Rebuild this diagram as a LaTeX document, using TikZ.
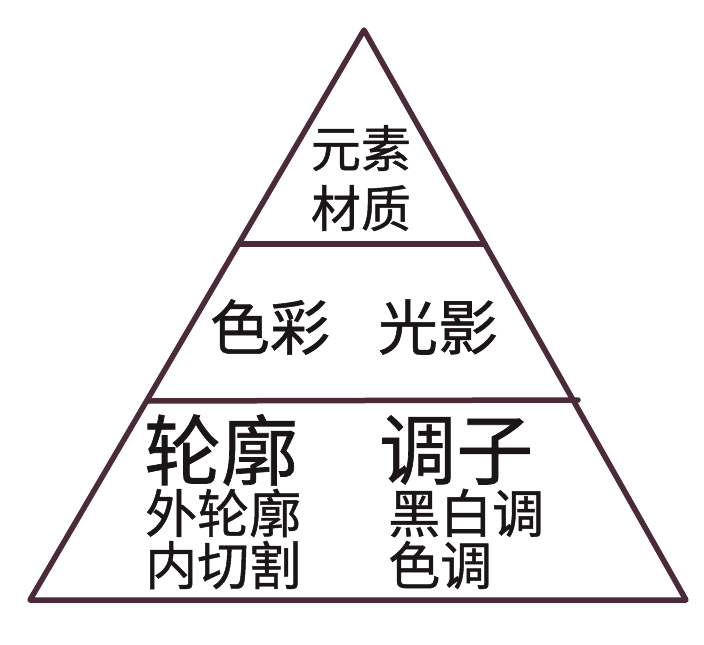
\documentclass[tikz,border=0pt]{standalone}
\usepackage{fontspec}
\newfontfamily\cjk[FakeBold=0.9,AutoFakeBold=0.9]{Noto Sans CJK SC}
\definecolor{edge}{HTML}{4B2A39}
\definecolor{ink}{HTML}{1A1618}
\begin{document}
\begin{tikzpicture}[x=1pt,y=-1pt,
  frame/.style={draw=edge,line width=5.5pt,line join=round,line cap=round},
  txt/.style={inner sep=0pt,text=ink,font=\cjk},
  top/.style={txt,font=\cjk\fontsize{50}{50}\selectfont},
  mid/.style={txt,font=\cjk\fontsize{60}{60}\selectfont},
  big/.style={txt,anchor=west,font=\cjk\fontsize{77}{77}\selectfont},
  small/.style={txt,anchor=west,font=\cjk\fontsize{52}{52}\selectfont}]
\useasboundingbox[fill=white] (0,0) rectangle (704,645);
\coordinate (apex) at (364,30);
\coordinate (bl) at (30,600);
\coordinate (br) at (686,600);
\coordinate (d1l) at (239,244);
\coordinate (d1r) at (485,244);
\coordinate (d2l) at (147,401);
\coordinate (d2r) at (578,400);
\draw[frame] (apex) -- (bl) -- (br) -- cycle;
\draw[frame] (d1l) -- (d1r);
\draw[frame] (d2l) -- (d2r);
\node[top] (t1) at (361,148) {元素};
\node[top] (t2) at (361,208) {材质};
\node[mid] (m1) at (270,327) {色彩};
\node[mid] (m2) at (438,327) {光影};
\node[big] (b1) at (144,450) {轮廓};
\node[big] (b2) at (379,450) {调子};
\node[small] (s1) at (145,513) {外轮廓};
\node[small] (s2) at (388,513) {黑白调};
\node[small] (s3) at (145,565) {内切割};
\node[small] (s4) at (388,565) {色调};
\end{tikzpicture}
\end{document}
